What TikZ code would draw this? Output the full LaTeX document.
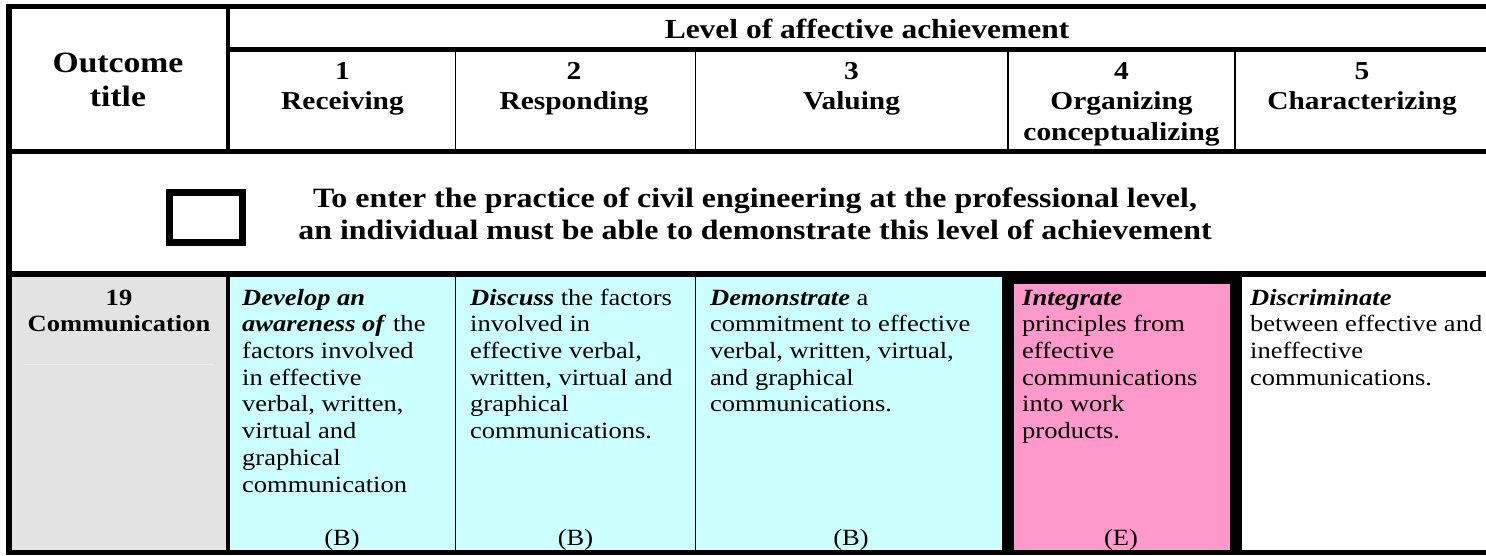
\documentclass[tikz,border=0pt]{standalone}
\usepackage{fontspec}
\setmainfont{Liberation Serif}[FakeStretch=1.14]
\definecolor{cellcyan}{HTML}{CCFFFF}
\definecolor{cellpink}{HTML}{FF99CC}
\definecolor{cellgray}{HTML}{E3E3E3}
\definecolor{faintline}{HTML}{EEEEEE}
\newcommand\hdrfont{\fontsize{25.8}{30.5}\selectfont\bfseries}
\newcommand\outfont{\fontsize{29.5}{34.5}\selectfont\bfseries}
\newcommand\lvlfont{\fontsize{27.6}{31}\selectfont\bfseries}
\newcommand\stmfont{\fontsize{28}{32.2}\selectfont\bfseries}
\newcommand\bodyfont{\fontsize{23.25}{26.7}\selectfont}
\newcommand\bix[1]{\textbf{\textit{#1}}}
\begin{document}
\begin{tikzpicture}[x=1pt,y=-1pt,
  hdr/.style={font=\hdrfont,align=center,anchor=north,inner sep=0pt},
  stm/.style={font=\stmfont,align=center,anchor=north,inner sep=0pt},
  body/.style={font=\bodyfont,align=left,anchor=north west,inner sep=0pt},
  grade/.style={font=\bodyfont,anchor=base,inner sep=0pt},
  thick rule/.style={line width=#1,draw=black},
  thin rule/.style={line width=1.5pt,draw=black}]
\useasboundingbox (0,0) rectangle (1486,555);
% fills
\fill[white] (0,0) rectangle (1486,555);
\fill[cellgray] (12,277) rectangle (226,550);
\draw[faintline,line width=1pt] (24,364) -- (214,364);
\fill[cellcyan] (230,277) rectangle (1002,550);
\fill[black] (1002,271) rectangle (1242,555);
\fill[cellpink] (1014,284) rectangle (1230,550);
% rules
\draw[thick rule=5.5pt] (6,6.5) -- (1486,6.5);
\draw[thick rule=6pt] (9,4) -- (9,555);
\draw[thick rule=4.5pt] (228,4) -- (228,154);
\draw[thick rule=4.5pt] (228,271) -- (228,555);
\draw[thick rule=5pt] (226,49.5) -- (1486,49.5);
\draw[thick rule=5pt] (6,151.5) -- (1486,151.5);
\draw[thick rule=6pt] (6,274) -- (1486,274);
\draw[thick rule=5pt] (6,552.5) -- (1486,552.5);
\foreach \x in {455.5,695.5,1008,1235} \draw[thin rule] (\x,52) -- (\x,149);
\foreach \x in {455.5,695.5} \draw[thin rule] (\x,277) -- (\x,550);
% header text
\node[font=\outfont,align=center,inner sep=0pt] (outcome) at (118,80) {Outcome\\title};
\node[font=\lvlfont,anchor=base,inner sep=0pt] (level) at (867,38) {Level of affective achievement};
\node[hdr] (h1) at (342.5,57.65) {\strut 1\\Receiving};
\node[hdr] (h2) at (574,57.65) {\strut 2\\Responding};
\node[hdr] (h3) at (851.5,57.65) {\strut 3\\Valuing};
\node[hdr] (h4) at (1121.5,57.65) {\strut 4\\Organizing\\conceptualizing};
\node[hdr] (h5) at (1362,57.65) {\strut 5\\Characterizing};
% statement row
\draw[line width=7pt] (169.5,192.5) rectangle (242.5,242.5);
\node[stm] (stmt) at (755,184.5) {\strut To enter the practice of civil engineering at the professional level,\\an individual must be able to demonstrate this level of achievement};
% outcome row
\node[font=\bodyfont\bfseries,align=center,anchor=north,inner sep=0pt] (oc) at (119,286.3) {\strut 19\\Communication};
\node[body] (c1) at (242,286.3) {\strut\bix{Develop an}\\\bix{awareness of} the\\factors involved\\in effective\\verbal, written,\\virtual and\\graphical\\communication};
\node[body] (c2) at (470,286.3) {\strut\bix{Discuss} the factors\\involved in\\effective verbal,\\written, virtual and\\graphical\\communications.};
\node[body] (c3) at (710,286.3) {\strut\bix{Demonstrate} a\\commitment to effective\\verbal, written, virtual,\\and graphical\\communications.};
\node[body] (c4) at (1022,286.3) {\strut\bix{Integrate}\\principles from\\effective\\communications\\into work\\products.};
\node[body] (c5) at (1250,286.3) {\strut\bix{Discriminate}\\between effective and\\ineffective\\communications.};
\node[grade] (g1) at (342,545) {(B)};
\node[grade] (g2) at (575.5,545) {(B)};
\node[grade] (g3) at (851,545) {(B)};
\node[grade] (g4) at (1121,545) {(E)};
\end{tikzpicture}
\end{document}
